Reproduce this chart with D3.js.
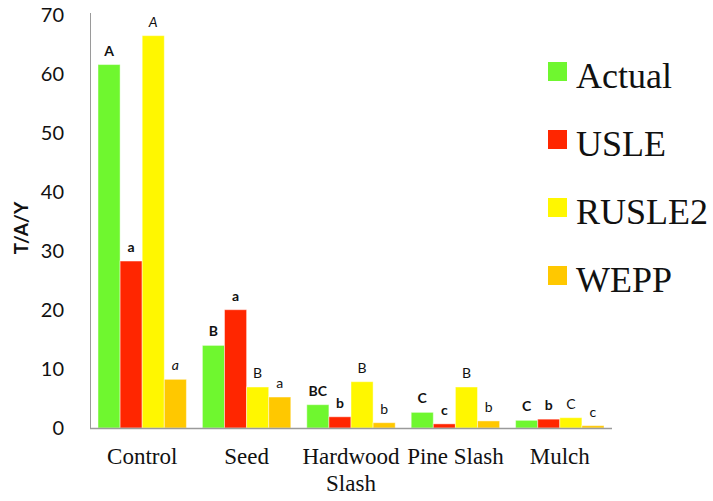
<!DOCTYPE html>
<html>
<head>
<meta charset="utf-8">
<script src="https://cdn.jsdelivr.net/npm/d3@7"></script>
<style>
  html, body { margin: 0; padding: 0; background: #fff; }
  svg { display: block; }
</style>
</head>
<body>
<svg id="chart" width="713" height="501"></svg>
<script>
// Erosion rates (T/A/Y) by treatment, measured vs. modelled
const categories = ["Control", "Seed", "Hardwood Slash", "Pine Slash", "Mulch"];
const seriesNames = ["Actual", "USLE", "RUSLE2", "WEPP"];
const seriesColors = ["#6ff72f", "#ff2600", "#fff700", "#ffc800"];

const actual = [61.6, 14.0, 3.95, 2.65, 1.3];
const usle   = [28.3, 20.05, 1.9, 0.7, 1.5];
const rusle2 = [66.5, 6.95, 7.85, 6.95, 1.75];
const wepp   = [8.25, 5.25, 0.9, 1.2, 0.4];

// Mean-separation letters above each bar
const actualLetters = ["A", "B", "BC", "C", "C"];
const usleLetters   = ["a", "a", "b", "c", "b"];
const rusle2Letters = ["A", "B", "B", "B", "C"];
const weppLetters   = ["a", "a", "b", "b", "c"];
const letterWeight  = ["bold", "bold", "normal", "normal"];
// Letters set in italics: [category index, series index]
const italicLetters = [[0, 2], [0, 3]];

const yTicks = [0, 10, 20, 30, 40, 50, 60, 70];

const seriesValues = [actual, usle, rusle2, wepp];
const seriesLetters = [actualLetters, usleLetters, rusle2Letters, weppLetters];

const svg = d3.select("#chart");
const plotLeft = 90, plotRight = 612, plotTop = 15, plotBottom = 428;

const x0 = d3.scaleBand().domain(categories).range([plotLeft, plotRight]).padding(0);
const x1 = d3.scaleBand().domain(seriesNames).range([8, x0.bandwidth() - 8]).padding(0);
const y = d3.scaleLinear().domain([0, 70]).range([plotBottom, plotTop]);

// Bars and letters
const rows = [];
categories.forEach((c, ci) => {
  seriesNames.forEach((s, si) => {
    rows.push({
      cat: c, series: s, ci, si,
      value: seriesValues[si][ci],
      letter: seriesLetters[si][ci],
      italic: italicLetters.some(p => p[0] === ci && p[1] === si)
    });
  });
});

const g = svg.append("g");
g.selectAll("rect.bar").data(rows).join("rect")
  .attr("class", "bar")
  .attr("x", d => x0(d.cat) + x1(d.series))
  .attr("y", d => y(d.value))
  .attr("width", x1.bandwidth())
  .attr("height", d => y(0) - y(d.value))
  .attr("fill", d => seriesColors[d.si])
  .attr("stroke", "rgba(255,255,255,0.45)")
  .attr("stroke-width", 1);

g.selectAll("text.letter").data(rows).join("text")
  .attr("class", "letter")
  .attr("x", d => x0(d.cat) + x1(d.series) + x1.bandwidth() / 2)
  .attr("y", d => y(d.value) - 9)
  .attr("text-anchor", "middle")
  .attr("font-family", "Lato, 'Open Sans', sans-serif")
  .attr("font-size", 14)
  .attr("font-weight", d => letterWeight[d.si])
  .attr("font-style", d => d.italic ? "italic" : "normal")
  .attr("fill", "#111")
  .text(d => d.letter);

// Y axis
const yAxis = d3.axisLeft(y).tickValues(yTicks).tickSize(0).tickPadding(26);
const ya = svg.append("g").attr("transform", `translate(${plotLeft},0)`).call(yAxis);
ya.select(".domain").attr("stroke", "#9a9a9a").attr("d", `M0.5,${plotBottom}V${plotTop - 2}`);
ya.selectAll("text")
  .attr("font-family", "Lato, 'Open Sans', sans-serif")
  .attr("font-size", 20)
  .attr("fill", "#111");

// X axis
const xAxis = d3.axisBottom(x0).tickSize(0).tickPadding(20);
const xa = svg.append("g").attr("transform", `translate(0,${plotBottom})`).call(xAxis);
xa.select(".domain").attr("stroke", "#9a9a9a").attr("stroke-width", 1.5).attr("d", `M${plotLeft},0.5H${plotRight}`);
xa.selectAll("text")
  .attr("font-family", "'Liberation Serif', 'Times New Roman', serif")
  .attr("font-size", 23)
  .attr("fill", "#111")
  .each(function () {
    const t = d3.select(this);
    if (this.getComputedTextLength() > x0.bandwidth() + 6) {
      const words = t.text().split(" ");
      const xPos = t.attr("x") || 0;
      t.text(null);
      words.forEach((w, i) => {
        t.append("tspan").attr("x", xPos).attr("dy", i === 0 ? "0.71em" : "1.15em").text(w);
      });
      t.attr("dy", null);
    }
  });

// Y axis title
svg.append("text")
  .attr("transform", "translate(28,228) rotate(-90)")
  .attr("text-anchor", "middle")
  .attr("font-family", "Lato, 'Open Sans', sans-serif")
  .attr("font-size", 19)
  .attr("font-weight", "bold")
  .attr("fill", "#111")
  .text("T/A/Y");

// Legend
const legend = svg.append("g");
seriesNames.forEach((s, i) => {
  const ly = 62 + i * 68;
  legend.append("rect")
    .attr("x", 548).attr("y", ly).attr("width", 19).attr("height", 19)
    .attr("fill", seriesColors[i]);
  legend.append("text")
    .attr("x", 576).attr("y", ly + 26)
    .attr("font-family", "'Liberation Serif', 'Times New Roman', serif")
    .attr("font-size", 36)
    .attr("fill", "#111")
    .text(s);
});
</script>
</body>
</html>
